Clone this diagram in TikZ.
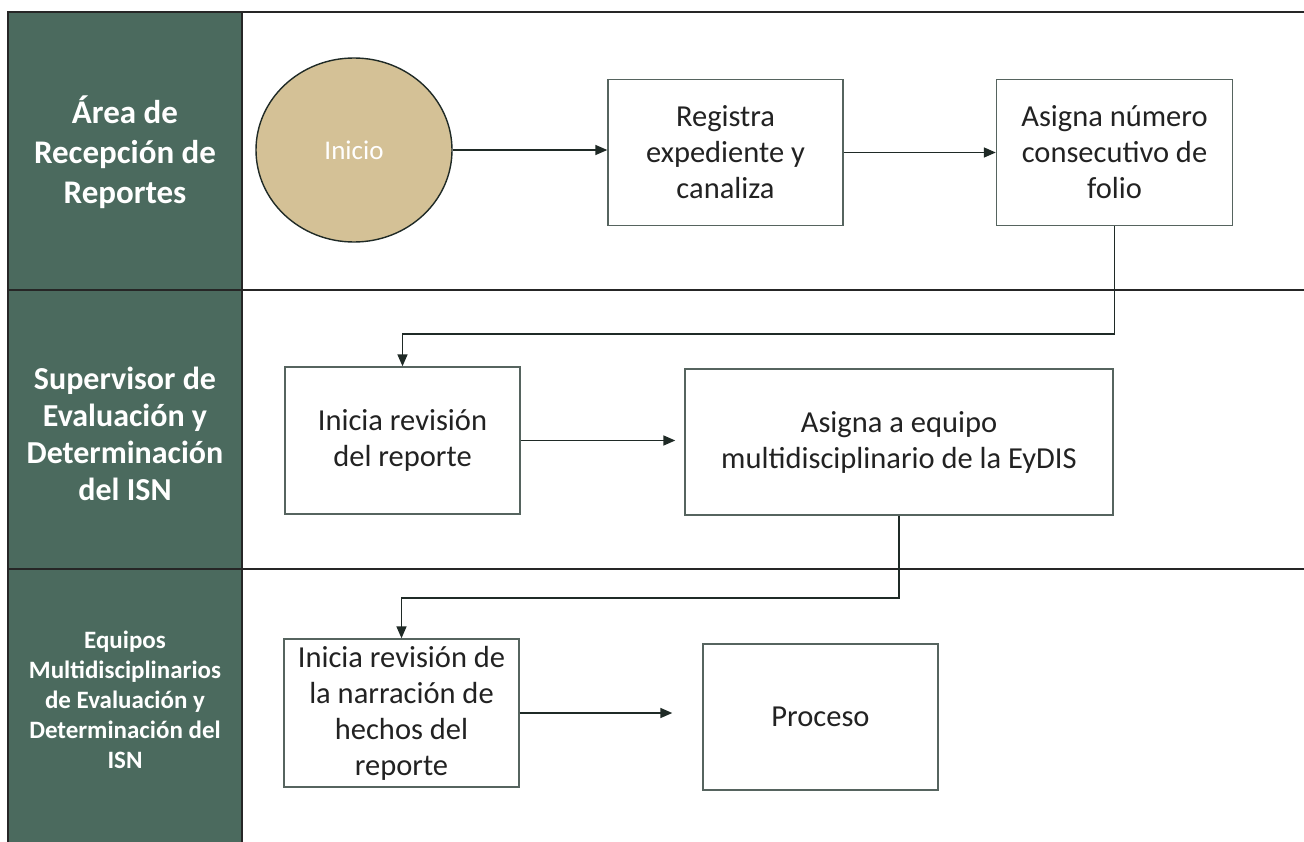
\documentclass[tikz,border=0pt]{standalone}
\usepackage{fontspec}
\setmainfont{Carlito}
\usetikzlibrary{arrows.meta,shapes.geometric}
\definecolor{lanegreen}{HTML}{4B6A5E}
\definecolor{tan}{HTML}{D4C196}
\definecolor{boxline}{HTML}{56645F}
\definecolor{arrowc}{HTML}{1F2A26}
\definecolor{txt}{HTML}{222222}
\tikzset{
  procbox/.style={draw=boxline, line width=1.4pt, fill=white, inner sep=0pt, align=center,
    text=txt, font=\fontsize{30.5}{36}\selectfont},
  hdr/.style={text=white, align=center, font=\bfseries\fontsize{33}{40}\selectfont},
  hdrsmall/.style={text=white, align=center, font=\bfseries\fontsize{25}{30}\selectfont},
  flow/.style={draw=arrowc, line width=1.6pt, -{Triangle[length=12pt,width=10pt]}},
  laneline/.style={draw=black!85, line width=1.8pt}
}
\begin{document}
\begin{tikzpicture}[x=1pt,y=-1pt]
\useasboundingbox (0,0) rectangle (1304,842);
\fill[white] (0,0) rectangle (1304,842);
% header column
\fill[lanegreen] (8,12) rectangle (242,842);
\draw[laneline] (8,842) -- (8,12) -- (1304,12);
\draw[laneline] (242,12) -- (242,842);
\draw[laneline] (8,290) -- (1304,290);
\draw[laneline] (8,569) -- (1304,569);
% headers
\node[hdr] (h1) at (125,152) {Área de\\Recepción de\\Reportes};
\node[hdr, font=\bfseries\fontsize{32}{37}\selectfont] (h2) at (125,434) {Supervisor de\\Evaluación y\\Determinación\\del ISN};
\node[hdrsmall] (h3) at (125,700) {Equipos\\Multidisciplinarios\\de Evaluación y\\Determinación del\\ISN};
% nodes
\node[ellipse, draw=arrowc, line width=1.4pt, fill=tan, minimum width=196pt, minimum height=184pt,
  inner sep=0pt, text=white, font=\fontsize{27}{30}\selectfont] (ini) at (354,150) {Inicio};
\node[procbox, minimum width=235pt, minimum height=146pt] (b1) at (725.5,152.5) {Registra\\expediente y\\canaliza};
\node[procbox, minimum width=236pt, minimum height=146pt] (b2) at (1114.5,152.5) {Asigna número\\consecutivo de\\folio};
\node[procbox, minimum width=235pt, minimum height=147pt] (b3) at (402.5,440.5) {Inicia revisión\\del reporte};
\node[procbox, minimum width=428pt, minimum height=146pt] (b4) at (899,442) {Asigna a equipo\\multidisciplinario de la EyDIS};
\node[procbox, minimum width=235pt, minimum height=148pt] (b5) at (401.5,713) {Inicia revisión de\\la narración de\\hechos del\\reporte};
\node[procbox, minimum width=235pt, minimum height=146pt] (b6) at (820.5,717) {Proceso};
% connectors
\draw[flow] (ini.east) -- (ini.east -| b1.west);
\draw[flow] (b1.east) -- (b2.west);
\draw[flow] (b2.south) -- ++(0,108) -| (b3.north);
\draw[flow, shorten >=9pt] (b3.east) -- (b3.east -| b4.west);
\draw[flow] (b4.south) -- ++(0,82) -| (b5.north);
\draw[flow, shorten >=30pt] (b5.east) -- (b5.east -| b6.west);
\end{tikzpicture}
\end{document}
